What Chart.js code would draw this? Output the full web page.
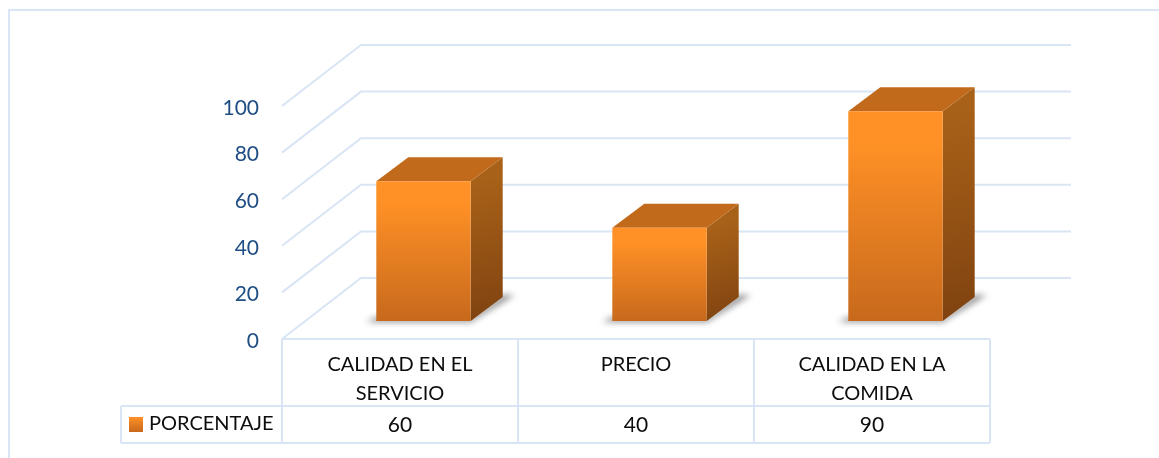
<!DOCTYPE html>
<html>
<head>
<meta charset="utf-8">
<style>
  html, body { margin: 0; padding: 0; background: #fff; overflow: hidden; }
  canvas { display: block; }
</style>
<script src="https://cdn.jsdelivr.net/npm/chart.js@4"></script>
</head>
<body>
<canvas id="chartBarras" width="1159" height="458"></canvas>
<script>
  var categorias = [['CALIDAD EN EL', 'SERVICIO'], ['PRECIO'], ['CALIDAD EN LA', 'COMIDA']];
  var porcentaje = [60, 40, 90];
  var serieNombre = 'PORCENTAJE';

  var corLinha = '#d9e5f4';
  var corTexto = '#0d0d0d';
  var fonte = 'Lato, Carlito, sans-serif';

  // deslocamentos da perspectiva
  var paredeDx = 79, paredeDy = -61;
  var barraDx = 23.5, barraDy = -18;
  var fundoDx = 32, fundoDy = -24;

  function linha(ctx, x1, y1, x2, y2) {
    ctx.beginPath();
    ctx.moveTo(x1, y1);
    ctx.lineTo(x2, y2);
    ctx.stroke();
  }

  function poligono(ctx, pts, cor) {
    ctx.beginPath();
    ctx.moveTo(pts[0][0], pts[0][1]);
    for (var i = 1; i < pts.length; i++) ctx.lineTo(pts[i][0], pts[i][1]);
    ctx.closePath();
    ctx.fillStyle = cor;
    ctx.fill();
  }

  var plugin3d = {
    id: 'plugin3d',
    beforeDraw: function (chart) {
      var ctx = chart.ctx, area = chart.chartArea;
      ctx.save();
      ctx.strokeStyle = corLinha;
      ctx.lineWidth = 2;
      // moldura
      ctx.beginPath();
      ctx.moveTo(9, 458);
      ctx.lineTo(9, 10);
      ctx.lineTo(1159, 10);
      ctx.stroke();
      // paredes
      chart.scales.y.ticks.forEach(function (t) {
        var y = chart.scales.y.getPixelForValue(t.value);
        ctx.beginPath();
        ctx.moveTo(area.left, y);
        ctx.lineTo(area.left + paredeDx, y + paredeDy);
        ctx.lineTo(1071, y + paredeDy);
        ctx.stroke();
      });
      ctx.restore();
    },
    beforeDatasetsDraw: function (chart) {
      var ctx = chart.ctx;
      var barras = chart.getDatasetMeta(0).data;
      ctx.save();
      barras.forEach(function (b) {
        var l = b.x - b.width / 2 + barraDx, r = b.x + b.width / 2 + barraDx;
        var t = b.y + barraDy, f = b.base + barraDy;

        // sombra
        ctx.save();
        ctx.filter = 'blur(3px)';
        poligono(ctx, [[l - 10, f + 1], [r, f + 1], [r + fundoDx + 12, f + fundoDy - 2], [r + fundoDx, f + fundoDy - 2], [r, f - 4], [l, f - 4]], '#8c8c8c');
        ctx.restore();

        // lado
        var gl = ctx.createLinearGradient(r, t, r + fundoDx, f);
        gl.addColorStop(0, '#a86118');
        gl.addColorStop(1, '#7f4210');
        poligono(ctx, [[r, t], [r + fundoDx, t + fundoDy], [r + fundoDx, f + fundoDy], [r, f]], gl);

        // topo
        poligono(ctx, [[l, t], [l + fundoDx, t + fundoDy], [r + fundoDx, t + fundoDy], [r, t]], '#c26a1b');
      });
      ctx.translate(barraDx, barraDy);
    },
    afterDatasetsDraw: function (chart) {
      chart.ctx.restore();
    },
    afterDraw: function (chart) {
      var ctx = chart.ctx, area = chart.chartArea, xs = chart.scales.x;
      var y0 = area.bottom, y1 = 406, y2 = 443, esq = 121;
      var bordas = [area.left];
      porcentaje.forEach(function (v, i) {
        bordas.push(xs.getPixelForValue(i) + (xs.getPixelForValue(1) - xs.getPixelForValue(0)) / 2);
      });

      ctx.save();
      ctx.strokeStyle = corLinha;
      ctx.lineWidth = 2;
      linha(ctx, area.left, y0, area.right, y0);
      linha(ctx, esq, y1, area.right, y1);
      linha(ctx, esq, y2, area.right, y2);
      linha(ctx, esq, y1, esq, y2);
      bordas.forEach(function (x) { linha(ctx, x, y0, x, y2); });

      // chave da legenda
      var g = ctx.createLinearGradient(0, 417, 0, 432);
      g.addColorStop(0, '#ff9126');
      g.addColorStop(1, '#c7691c');
      ctx.fillStyle = g;
      ctx.fillRect(129, 417, 14, 15);

      ctx.fillStyle = corTexto;
      ctx.font = '20px ' + fonte;
      ctx.textBaseline = 'middle';
      ctx.textAlign = 'left';
      ctx.fillText(serieNombre, 149, 424);
      ctx.font = '21px ' + fonte;
      ctx.textAlign = 'center';
      porcentaje.forEach(function (v, i) {
        ctx.fillText(String(v), xs.getPixelForValue(i), 425);
      });
      ctx.restore();
    }
  };

  var chart1 = document.getElementById('chartBarras');

  var bar1 = new Chart(chart1, {
    type: 'bar',
    plugins: [plugin3d],
    data: {
      labels: categorias,
      datasets: [
        {
          label: serieNombre,
          data: porcentaje,
          clip: false,
          barPercentage: 0.4,
          categoryPercentage: 1,
          backgroundColor: function (c) {
            var area = c.chart.chartArea, y = c.chart.scales.y;
            if (!area || c.raw === undefined) return '#ff9126';
            var g = c.chart.ctx.createLinearGradient(0, y.getPixelForValue(c.raw), 0, y.getPixelForValue(0));
            g.addColorStop(0, '#ff9126');
            g.addColorStop(0.15, '#ff9126');
            g.addColorStop(1, '#c7691c');
            return g;
          }
        }
      ]
    },
    options: {
      responsive: false,
      animation: false,
      layout: { padding: { left: 0, right: 169, top: 106, bottom: 0 } },
      plugins: { legend: { display: false }, title: { display: false }, tooltip: { enabled: false } },
      scales: {
        x: {
          afterFit: function (s) { s.height = 119; },
          border: { display: false },
          grid: { display: false },
          ticks: {
            color: corTexto,
            maxRotation: 0,
            autoSkip: false,
            padding: 3,
            font: { family: fonte, size: 20, lineHeight: 1.45 }
          }
        },
        y: {
          min: 0,
          max: 100,
          afterFit: function (s) { s.width = 282; },
          border: { display: false },
          grid: { display: false, drawTicks: false },
          ticks: {
            stepSize: 20,
            color: '#1f4e84',
            padding: 23,
            // linha vazia so para descer o texto 2px
            callback: function (v) { return ['', String(v)]; },
            font: { family: fonte, size: 21, lineHeight: '4px' }
          }
        }
      }
    }
  });
</script>
</body>
</html>
